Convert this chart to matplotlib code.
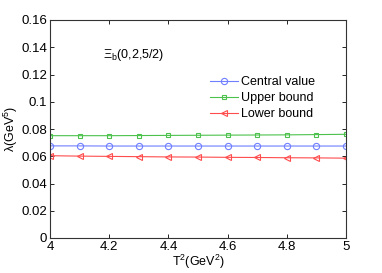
import numpy as np
import matplotlib
matplotlib.use('Agg')
import matplotlib.pyplot as plt

# 데이터
T2 = [4.0, 4.1, 4.2, 4.3, 4.4, 4.5, 4.6, 4.7, 4.8, 4.9, 5.0]
central = [0.0676, 0.0676, 0.0675, 0.0675, 0.0675, 0.0675, 0.0675, 0.0675, 0.0675, 0.0675, 0.0675]
upper = [0.0751, 0.0751, 0.0751, 0.0752, 0.0753, 0.0754, 0.0755, 0.0756, 0.0757, 0.0759, 0.0761]
lower = [0.0604, 0.0601, 0.0599, 0.0597, 0.0595, 0.0594, 0.0592, 0.0591, 0.0589, 0.0588, 0.0586]

plt.rcParams['font.family'] = ['Liberation Sans', 'DejaVu Sans']
plt.rcParams['mathtext.fontset'] = 'custom'
plt.rcParams['mathtext.rm'] = 'Liberation Sans'
plt.rcParams['mathtext.it'] = 'Liberation Sans'

fig = plt.figure(figsize=(3.82, 2.73), dpi=100)
ax = fig.add_axes([50/382, 35/273, 296/382, 218/273])

ax.plot(T2, central, color='#6f7fff', lw=0.8, marker='o', ms=4.5, mfc='none', mew=0.8, label='Central value')
ax.plot(T2, upper, color='#4cc24c', lw=0.8, marker='s', ms=3.5, mfc='none', mew=0.8, label='Upper bound')
ax.plot(T2, lower, color='#ff4c4c', lw=0.8, marker='<', ms=4.5, mfc='none', mew=0.8, label='Lower bound')

ax.set_xlim(4, 5)
ax.set_ylim(0, 0.16)
ax.set_xticks([4, 4.2, 4.4, 4.6, 4.8, 5])
ax.set_xticklabels(['4', '4.2', '4.4', '4.6', '4.8', '5'])
ax.set_yticks([0, 0.02, 0.04, 0.06, 0.08, 0.1, 0.12, 0.14, 0.16])
ax.set_yticklabels(['0', '0.02', '0.04', '0.06', '0.08', '0.1', '0.12', '0.14', '0.16'])
ax.tick_params(direction='in', length=3, width=0.6, labelsize=9.5, top=True, right=True, pad=2)
for s in ax.spines.values():
    s.set_linewidth(0.8)
    s.set_color('#333333')

ax.set_xlabel(r'T$^2$(GeV$^2$)', fontsize=9, labelpad=0)
ax.set_ylabel(r'$\lambda$(GeV$^5$)', fontsize=9, labelpad=1)

ax.text(4.18, 0.134, r'$\Xi_{\rm b}$(0,2,5/2)', fontsize=9, va='center')

ax.legend(loc='upper left', bbox_to_anchor=(0.52, 0.77), frameon=False, fontsize=9,
          handlelength=2.2, handletextpad=0.3, labelspacing=0.3, borderpad=0)

plt.savefig('out.png', dpi=100)
